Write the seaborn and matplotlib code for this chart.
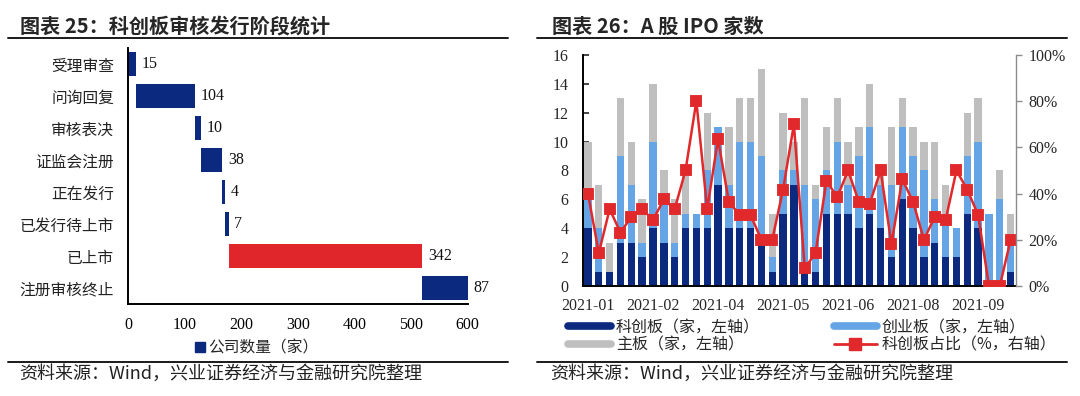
import numpy as np
import pandas as pd
import matplotlib
matplotlib.use("Agg")
import matplotlib.pyplot as plt
from matplotlib.lines import Line2D
from matplotlib.ticker import PercentFormatter
import seaborn as sns

# ---------------- data ----------------
# Left: STAR market review / issuance stages (waterfall)
stages = ["受理审查", "问询回复", "审核表决", "证监会注册", "正在发行",
          "已发行待上市", "已上市", "注册审核终止"]
stage_counts = [15, 104, 10, 38, 4, 7, 342, 87]
stage_ticks = [0, 100, 200, 300, 400, 500, 600]
highlight_stage = "已上市"

# Right: weekly A-share IPO counts, 2021
kcb = [4, 1, 1, 3, 3, 2, 4, 3, 2, 4, 4, 4, 7, 4, 4, 4, 3, 1, 5, 7,
       1, 1, 5, 5, 5, 4, 5, 4, 2, 6, 4, 2, 3, 2, 2, 5, 4, 0, 0, 1]
cyb = [2, 3, 0, 6, 4, 1, 6, 3, 1, 1, 1, 4, 4, 3, 6, 6, 6, 1, 3, 1,
       6, 5, 3, 5, 2, 5, 6, 3, 5, 5, 5, 6, 3, 3, 2, 4, 6, 5, 6, 2]
zb = [4, 3, 2, 4, 3, 3, 4, 2, 3, 3, 0, 4, 0, 4, 3, 3, 6, 3, 4, 2,
      6, 1, 3, 3, 3, 2, 3, 1, 4, 2, 2, 2, 4, 2, 0, 3, 3, 0, 2, 2]
kcb_share = [40, 14.3, 33.3, 23.1, 30, 33.3, 28.6, 37.5, 33.3, 50,
             80, 33.3, 63.6, 36.4, 30.8, 30.8, 20, 20, 41.7, 70,
             7.7, 14.3, 45.5, 38.5, 50, 36.4, 35.7, 50, 18.2, 46.2,
             36.4, 20, 30, 28.6, 50, 41.7, 30.8, 0, 0, 20]
month_labels = ["2021-01", "2021-02", "2021-04", "2021-05", "2021-06", "2021-08", "2021-09"]
label_every = 6
left_ticks = [0, 2, 4, 6, 8, 10, 12, 14, 16]
right_ticks = [0, 20, 40, 60, 80, 100]

legend_labels = ["科创板（家，左轴）", "主板（家，左轴）", "创业板（家，左轴）", "科创板占比（%，右轴）"]

# ---------------- style ----------------
sns.set_style("white")
plt.rcParams["font.family"] = ["Noto Sans CJK SC", "DejaVu Sans"]
SERIF = "Liberation Serif"

navy = "#0B2A7F"
lblue = "#65A5E6"
gray = "#BFBFBF"
red = "#E1282A"
red_bar = "#E0262A"

fig = plt.figure(figsize=(10.8, 3.96), dpi=100)

# ---------------- left panel ----------------
ax_l = fig.add_axes([0.1185, 0.2323, 0.3144, 0.646])
ends = np.cumsum(stage_counts)
starts = ends - np.array(stage_counts)
left_df = pd.DataFrame({"stage": stages, "count": stage_counts, "end": ends, "start": starts})
pal = {s: (red_bar if s == highlight_stage else navy) for s in stages}
sns.barplot(data=left_df, y="stage", x="end", hue="stage", palette=pal, order=stages,
            width=0.75, saturation=1, legend=False, ax=ax_l, linewidth=0, errorbar=None)
sns.barplot(data=left_df, y="stage", x="start", color="white", order=stages,
            width=0.82, saturation=1, ax=ax_l, linewidth=0, errorbar=None)
ax_l.set_xlim(stage_ticks[0], stage_ticks[-1])
ax_l.set_xticks(stage_ticks)
ax_l.set_xlabel("")
ax_l.set_ylabel("")
for i, (e, c) in enumerate(zip(ends, stage_counts)):
    ax_l.annotate(str(c), xy=(min(e, stage_ticks[-1]), i), xytext=(4, 0),
                  textcoords="offset points", va="center", ha="left",
                  fontsize=11.5, family=SERIF, color="#111111")
for sp in ["top", "right"]:
    ax_l.spines[sp].set_visible(False)
for sp in ["left", "bottom"]:
    ax_l.spines[sp].set_color("black")
    ax_l.spines[sp].set_linewidth(1.4)
ax_l.tick_params(axis="x", direction="in", length=4, width=1.2, colors="black",
                 pad=9, labelsize=11.5)
ax_l.tick_params(axis="y", length=0, pad=10, labelsize=11.3, labelcolor="#222222")
for lab in ax_l.get_xticklabels():
    lab.set_fontfamily(SERIF)

fig.legend(handles=[Line2D([], [], marker="s", color=navy, linestyle="none", markersize=7)],
           labels=["公司数量（家）"], loc="center", bbox_to_anchor=(0.238, 0.1217),
           frameon=False, fontsize=11.3, handlelength=0.6, handletextpad=0.2)

# ---------------- right panel ----------------
ax_r = fig.add_axes([0.5394, 0.2778, 0.4014, 0.5833])
idx = list(range(len(kcb)))
kc_cy = np.add(kcb, cyb)
total = kc_cy + np.array(zb)
right_df = pd.DataFrame({"week": idx, "kc": kcb, "kc_cy": kc_cy, "total": total,
                         "share": kcb_share})
bar_w = 0.68
sns.barplot(data=right_df, x="week", y="total", color=gray, width=bar_w, saturation=1,
            ax=ax_r, linewidth=0, errorbar=None)
sns.barplot(data=right_df, x="week", y="kc_cy", color=lblue, width=bar_w, saturation=1,
            ax=ax_r, linewidth=0, errorbar=None)
sns.barplot(data=right_df, x="week", y="kc", color=navy, width=bar_w, saturation=1,
            ax=ax_r, linewidth=0, errorbar=None)
ax_r.set_ylim(left_ticks[0], left_ticks[-1])
ax_r.set_yticks(left_ticks)

ax_r2 = ax_r.twinx()
sns.pointplot(data=right_df, x="week", y="share", color=red, markers="s",
              markersize=7.5, linewidth=1.8, errorbar=None, ax=ax_r2)
ax_r2.set_ylim(right_ticks[0], right_ticks[-1])
ax_r2.set_yticks(right_ticks)
ax_r2.yaxis.set_major_formatter(PercentFormatter(100, decimals=0))

ax_r.set_xticks(idx[::label_every])
ax_r.set_xticklabels(month_labels)
ax_r.set_xlim(-0.5, len(kcb) - 0.5)
for a in (ax_r, ax_r2):
    a.set_xlabel("")
    a.set_ylabel("")

for sp in ["top", "right"]:
    ax_r.spines[sp].set_visible(False)
ax_r.spines["left"].set_color("black")
ax_r.spines["left"].set_linewidth(1.4)
ax_r.spines["bottom"].set_color("black")
ax_r.spines["bottom"].set_linewidth(1.4)
for sp in ["top", "left", "bottom"]:
    ax_r2.spines[sp].set_visible(False)
ax_r2.spines["right"].set_color("#8C8C8C")
ax_r2.spines["right"].set_linewidth(1.0)

ax_r.tick_params(axis="x", length=0, pad=9, labelsize=11.5)
ax_r.tick_params(axis="y", direction="in", length=4, width=1.2, pad=10, labelsize=11.5)
ax_r2.tick_params(axis="y", direction="out", length=4, width=1.0, color="#8C8C8C",
                  pad=5, labelsize=11.5)
for lab in ax_r.get_xticklabels() + ax_r.get_yticklabels() + ax_r2.get_yticklabels():
    lab.set_fontfamily(SERIF)

handles = [Line2D([], [], color=navy, lw=5.5),
           Line2D([], [], color=gray, lw=5.5),
           Line2D([], [], color=lblue, lw=5.5),
           Line2D([], [], color=red, lw=2, marker="s", markersize=8)]
fig.legend(handles=handles, labels=legend_labels, ncol=2, loc="center",
           bbox_to_anchor=(0.752, 0.1505), frameon=False, fontsize=11.5,
           handlelength=2.7, handletextpad=0.3, columnspacing=4.6, labelspacing=0.05)

# ---------------- titles, rules, sources ----------------
fig.text(0.0185, 0.934, "图表 25：科创板审核发行阶段统计", fontsize=14.5,
         fontweight="bold", va="center", ha="left")
fig.text(0.511, 0.934, "图表 26：A 股 IPO 家数", fontsize=14.5,
         fontweight="bold", va="center", ha="left")
for x0, x1 in [(0.0074, 0.470), (0.497, 0.988)]:
    fig.add_artist(Line2D([x0, x1], [0.904, 0.904], transform=fig.transFigure,
                          color="#1a1a1a", lw=1.4))
    fig.add_artist(Line2D([x0, x1], [0.0855, 0.0855], transform=fig.transFigure,
                          color="#1a1a1a", lw=1.4))
src = "资料来源：Wind，兴业证券经济与金融研究院整理"
fig.text(0.0176, 0.056, src, fontsize=13, va="center", ha="left", color="#222222")
fig.text(0.509, 0.056, src, fontsize=13, va="center", ha="left", color="#222222")

fig.savefig("out.png", dpi=100)
